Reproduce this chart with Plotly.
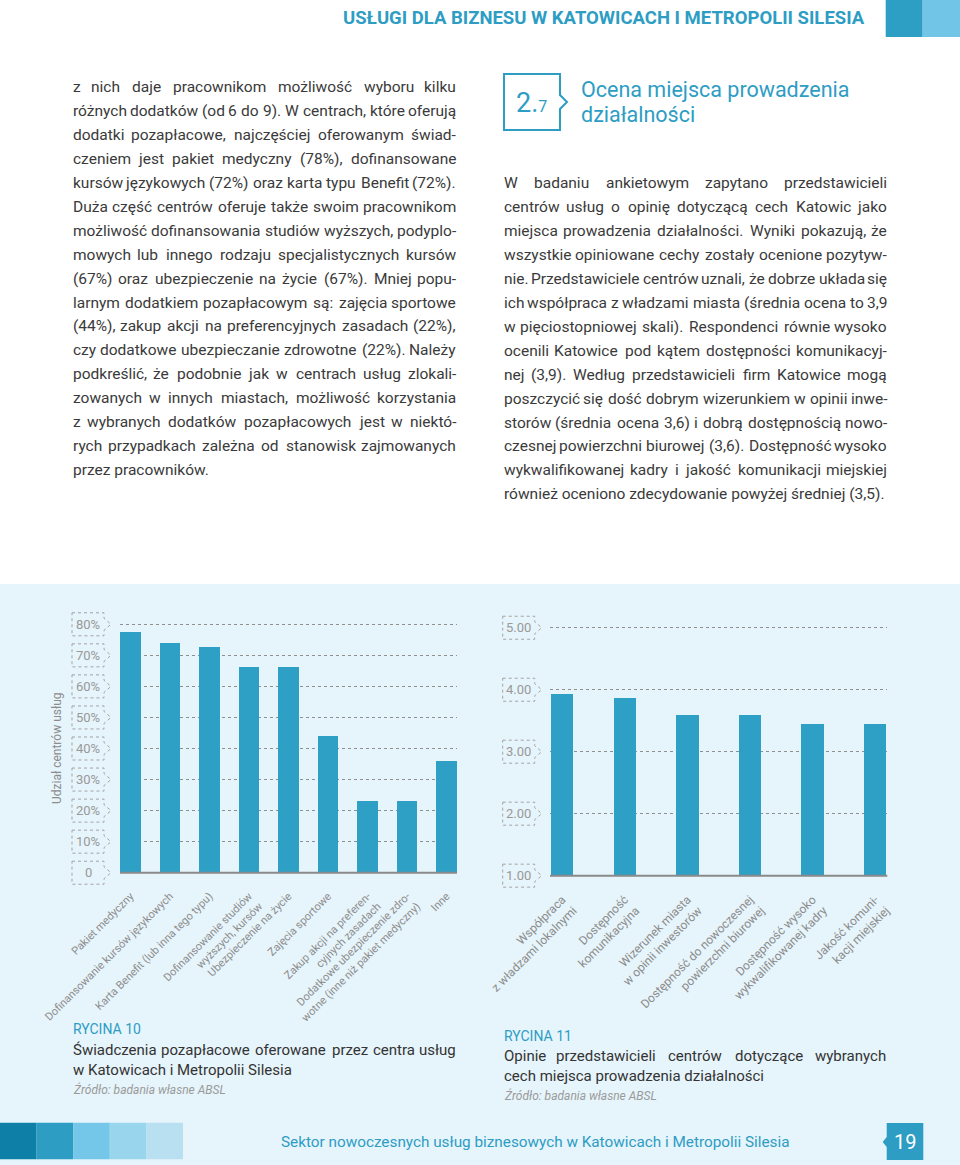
import plotly.graph_objects as go

# ---------------- data ----------------
benefit_labels = [
    "Pakiet medyczny",
    "Dofinansowanie kursów językowych",
    "Karta Benefit (lub inna tego typu)",
    "Dofinansowanie studiów<br>wyższych, kursów",
    "Ubezpieczenie na życie",
    "Zajęcia sportowe",
    "Zakup akcji na preferen-<br>cyjnych zasadach",
    "Dodatkowe ubezpieczenie zdro-<br>wotne (inne niż pakiet medyczny)",
    "Inne",
]
benefit_share = [77.5, 74, 72.5, 66, 66, 44, 23, 23, 36]
share_ticks = [0, 10, 20, 30, 40, 50, 60, 70, 80]
share_tick_text = ["0", "10%", "20%", "30%", "40%", "50%", "60%", "70%", "80%"]

location_labels = [
    "Współpraca<br>z władzami lokalnymi",
    "Dostępność<br>komunikacyjna",
    "Wizerunek miasta<br>w opinii inwestorów",
    "Dostępność do nowoczesnej<br>powierzchni biurowej",
    "Dostępność wysoko<br>wykwalifikowanej kadry",
    "Jakość komuni-<br>kacji miejskiej",
]
location_score = [3.93, 3.87, 3.59, 3.59, 3.45, 3.45]
score_ticks = [1, 2, 3, 4, 5]
score_tick_text = ["1.00", "2.00", "3.00", "4.00", "5.00"]
score_base = 1.0

left_text = [
    "z nich daje pracownikom możliwość wyboru kilku",
    "różnych dodatków (od 6 do 9). W centrach, które oferują",
    "dodatki pozapłacowe, najczęściej oferowanym świad-",
    "czeniem jest pakiet medyczny (78%), dofinansowane",
    "kursów językowych (72%) oraz karta typu Benefit (72%).",
    "Duża część centrów oferuje także swoim pracownikom",
    "możliwość dofinansowania studiów wyższych, podyplo-",
    "mowych lub innego rodzaju specjalistycznych kursów",
    "(67%) oraz ubezpieczenie na życie (67%). Mniej popu-",
    "larnym dodatkiem pozapłacowym są: zajęcia sportowe",
    "(44%), zakup akcji na preferencyjnych zasadach (22%),",
    "czy dodatkowe ubezpieczanie zdrowotne (22%). Należy",
    "podkreślić, że podobnie jak w centrach usług zlokali-",
    "zowanych w innych miastach, możliwość korzystania",
    "z wybranych dodatków pozapłacowych jest w niektó-",
    "rych przypadkach zależna od stanowisk zajmowanych",
    "przez pracowników.",
]
right_text = [
    "W badaniu ankietowym zapytano przedstawicieli",
    "centrów usług o opinię dotyczącą cech Katowic jako",
    "miejsca prowadzenia działalności. Wyniki pokazują, że",
    "wszystkie opiniowane cechy zostały ocenione pozytyw-",
    "nie. Przedstawiciele centrów uznali, że dobrze układa się",
    "ich współpraca z władzami miasta (średnia ocena to 3,9",
    "w pięciostopniowej skali). Respondenci równie wysoko",
    "ocenili Katowice pod kątem dostępności komunikacyj-",
    "nej (3,9). Według przedstawicieli firm Katowice mogą",
    "poszczycić się dość dobrym wizerunkiem w opinii inwe-",
    "storów (średnia ocena 3,6) i dobrą dostępnością nowo-",
    "czesnej powierzchni biurowej (3,6). Dostępność wysoko",
    "wykwalifikowanej kadry i jakość komunikacji miejskiej",
    "również oceniono zdecydowanie powyżej średniej (3,5).",
]

# ---------------- style ----------------
W, H = 960, 1165
FONT = "Roboto"
BLUE = "#2d9dc4"
BAR = "#2ea0c6"
PANEL = "#e6f4fb"
TEXT = "#3a3a3a"
GREY = "#8c8c8c"


def px(x):
    return x / W


def py(y):
    return 1 - y / H


def path(points):
    s = "M" + " L".join(f"{px(x):.5f},{py(y):.5f}" for x, y in points)
    return s + " Z"


# approximate Roboto advance widths (em)
ROB = {' ': .248, '%': .715, '(': .334, ')': .339, ',': .192, '-': .27, '.': .258, ':': .237,
       'A': .652, 'B': .623, 'C': .651, 'D': .656, 'E': .568, 'K': .627, 'M': .873, 'N': .713,
       'P': .631, 'R': .616, 'S': .594, 'W': .887, 'Z': .599,
       'a': .544, 'b': .548, 'c': .51, 'd': .55, 'e': .517, 'f': .338, 'g': .547, 'h': .539,
       'i': .237, 'j': .233, 'k': .495, 'l': .237, 'm': .857, 'n': .54, 'o': .558, 'p': .547,
       'r': .331, 's': .504, 't': .32, 'u': .538, 'v': .473, 'w': .733, 'y': .462, 'z': .484,
       'ą': .544, 'ć': .51, 'ę': .517, 'ł': .26, 'ń': .54, 'ó': .558, 'ś': .504, 'ź': .484,
       'ż': .484, 'Ś': .594, 'Ź': .599}
for d in "0123456789":
    ROB[d] = .562


def tw(s, size):
    return sum(ROB.get(c, .55) for c in s) * size * 1.02


annotations = []
shapes = []


def ann(text, x, y, xanchor="left", size=15.5, color=TEXT, **kw):
    annotations.append(dict(text=text, x=px(x), y=py(y), xref="paper", yref="paper",
                            xanchor=xanchor, yanchor="middle", showarrow=False, borderpad=0,
                            font=dict(family=FONT, size=size, color=color), **kw))


def justified(lines, x0, x1, y0, step, size=15.5, color=TEXT, last_left=True):
    for i, line in enumerate(lines):
        y = y0 + i * step
        words = line.split(" ")
        if (last_left and i == len(lines) - 1) or len(words) == 1:
            ann(line, x0, y, "left", size, color)
            continue
        widths = [tw(w, size) for w in words]
        n = len(words)
        gap = (x1 - x0 - sum(widths)) / (n - 1)
        for j, (w, wd) in enumerate(zip(words, widths)):
            if j == 0:
                ann(w, x0, y, "left", size, color)
            elif j == n - 1:
                ann(w, x1, y, "right", size, color)
            else:
                ann(w, x0 + sum(widths[:j]) + j * gap + wd / 2, y, "center", size, color)


# ---------------- figure ----------------
fig = go.Figure()
fig.add_trace(go.Bar(x=benefit_labels, y=benefit_share, xaxis="x", yaxis="y",
                     marker=dict(color=BAR, line=dict(width=0)), width=0.527,
                     hoverinfo="skip", showlegend=False))
fig.add_trace(go.Bar(x=location_labels, y=[v - score_base for v in location_score],
                     base=score_base, xaxis="x2", yaxis="y2",
                     marker=dict(color=BAR, line=dict(width=0)), width=0.357,
                     hoverinfo="skip", showlegend=False))

# background panel
shapes.append(dict(type="rect", xref="paper", yref="paper", x0=0, x1=1, y0=0, y1=py(584),
                   fillcolor=PANEL, line=dict(width=0), layer="below"))
# header squares
shapes.append(dict(type="rect", xref="paper", yref="paper", x0=px(885.7), x1=px(922.7),
                   y0=py(37), y1=1, fillcolor="#2e9fc4", line=dict(width=0)))
shapes.append(dict(type="rect", xref="paper", yref="paper", x0=px(922.7), x1=1,
                   y0=py(37), y1=1, fillcolor="#71c6e7", line=dict(width=0)))
# footer squares
for i, c in enumerate(["#0e7fa6", "#2d9dc4", "#74c7e8", "#9ad5ee", "#b8e0f0"]):
    shapes.append(dict(type="rect", xref="paper", yref="paper", x0=px(i * 36.6),
                       x1=px((i + 1) * 36.6), y0=py(1159.3), y1=py(1122.7),
                       fillcolor=c, line=dict(width=0)))
# page number box
shapes.append(dict(type="path", xref="paper", yref="paper",
                   path=path([(886.7, 1123), (923.3, 1123), (923.3, 1160), (886.7, 1160),
                              (886.7, 1147), (882.7, 1142), (886.7, 1137)]),
                   fillcolor=BLUE, line=dict(width=0)))
# section number box
shapes.append(dict(type="path", xref="paper", yref="paper",
                   path=path([(504, 74), (560, 74), (560, 95), (567, 102), (560, 109),
                              (560, 130), (504, 130)]),
                   fillcolor="rgba(0,0,0,0)", line=dict(color=BLUE, width=2)))

# tick boxes
BOX = "M0,11.5 L32,11.5 L32,6 L39,0 L32,-6 L32,-11.5 L0,-11.5 Z"
for yref, xl, ticks, labels in [("y", 72, share_ticks, share_tick_text),
                                ("y2", 502.7, score_ticks, score_tick_text)]:
    for v, t in zip(ticks, labels):
        shapes.append(dict(type="path", xref="paper", yref=yref, xsizemode="pixel",
                           ysizemode="pixel", xanchor=px(xl), yanchor=v, path=BOX,
                           fillcolor="rgba(0,0,0,0)",
                           line=dict(color="#a3a3a3", width=1, dash="dot")))
        annotations.append(dict(text=t, x=px(xl + 16), y=v, xref="paper", yref=yref,
                                xanchor="center", yanchor="middle", showarrow=False,
                                font=dict(family=FONT, size=13, color="#999999")))

# baselines
shapes.append(dict(type="line", xref="x domain", yref="y", x0=0, x1=1, y0=0, y1=0,
                   line=dict(color="#8a8a8a", width=2)))
shapes.append(dict(type="line", xref="x2 domain", yref="y2", x0=0, x1=1,
                   y0=score_base, y1=score_base, line=dict(color="#8a8a8a", width=2)))

# ---------------- texts ----------------
ann("<b>USŁUGI DLA BIZNESU W KATOWICACH I METROPOLII SILESIA</b>", 866, 18, "right",
    18.5, BLUE)
justified(left_text, 72, 457, 87, 23.95)
justified(right_text, 503, 888, 183, 23.95)
ann('2.<span style="font-size:16px">7</span>', 531, 103, "center", 27, BLUE)
ann("Ocena miejsca prowadzenia", 580, 89.5, "left", 21.5, BLUE)
ann("działalności", 580, 114, "left", 21.5, BLUE)

ann("Udział centrów usług", 57, 748, "center", 12, GREY, textangle=-90)

ann("RYCINA 10", 72, 1029, "left", 14, BLUE)
justified(["Świadczenia pozapłacowe oferowane przez centra usług",
           "w Katowicach i Metropolii Silesia"], 72, 457, 1050, 19.5, 15, "#333333")
ann("<i>Źródło: badania własne ABSL</i>", 72, 1089, "left", 12, "#9a9a9a")

ann("RYCINA 11", 503, 1036, "left", 14, BLUE)
justified(["Opinie przedstawicieli centrów dotyczące wybranych",
           "cech miejsca prowadzenia działalności"], 503, 887, 1056, 19.5, 15, "#333333")
ann("<i>Źródło: badania własne ABSL</i>", 503, 1095, "left", 12, "#9a9a9a")

ann("Sektor nowoczesnych usług biznesowych w Katowicach i Metropolii Silesia", 535, 1142,
    "center", 15.3, BLUE)
ann("19", 905, 1142, "center", 20, "#ffffff")

# ---------------- layout ----------------
common_y = dict(showticklabels=False, showgrid=True, gridcolor="#8f8f8f", griddash="dot",
                gridwidth=1, zeroline=False, showline=False, ticks="", automargin=False)
common_x = dict(type="category", tickangle=-45, showgrid=False,
                showline=False, zeroline=False, ticks="", automargin=False)
fig.update_layout(
    width=W, height=H, margin=dict(l=0, r=0, t=0, b=0, autoexpand=False),
    paper_bgcolor="#ffffff", plot_bgcolor="rgba(0,0,0,0)",
    font=dict(family=FONT, color=TEXT),
    showlegend=False, hovermode=False, bargap=0,
    xaxis=dict(domain=[px(120), px(457)], range=[-0.265, 8.265], anchor="y",
               tickfont=dict(family=FONT, size=11, color=GREY), **common_x),
    yaxis=dict(domain=[py(886.7), py(610.3)], range=[-4.5, 84.5], anchor="x",
               tickvals=share_ticks, **common_y),
    xaxis2=dict(domain=[px(550), px(887.3)], range=[-0.195, 5.195], anchor="y2",
                tickfont=dict(family=FONT, size=12, color=GREY), **common_x),
    yaxis2=dict(domain=[py(889.3), py(614.1)], range=[0.78, 5.22], anchor="x2",
                tickvals=score_ticks, **common_y),
    shapes=shapes, annotations=annotations,
)

fig.write_html("out.html", config={"displayModeBar": False},
               post_script="document.body.style.margin='0';")
